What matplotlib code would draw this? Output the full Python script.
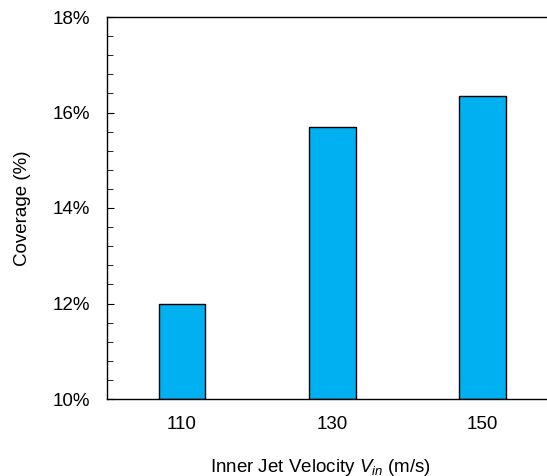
import matplotlib.pyplot as plt
from matplotlib.ticker import MultipleLocator, FuncFormatter

plt.rcParams['font.family'] = ['Liberation Sans', 'DejaVu Sans']
plt.rcParams['mathtext.fontset'] = 'custom'
plt.rcParams['mathtext.it'] = 'Liberation Sans:italic'
plt.rcParams['mathtext.rm'] = 'Liberation Sans'

# datos
velocidades = ['110', '130', '150']
cobertura = [11.98, 15.70, 16.35]

fig = plt.figure(figsize=(5.47, 4.76), dpi=100)
ax = fig.add_axes([107 / 547, 1 - 399 / 476, 440 / 547, 382 / 476])

x = range(len(velocidades))
ax.bar(x, [c - 10 for c in cobertura], bottom=10, width=0.313,
       color='#00B0F0', edgecolor='black', linewidth=1)

ax.set_xlim(-0.5, 2.433)
ax.set_ylim(10, 18)
ax.set_xticks(list(x))
ax.set_xticklabels(velocidades)
ax.yaxis.set_major_locator(MultipleLocator(2))
ax.yaxis.set_minor_locator(MultipleLocator(0.4))
ax.yaxis.set_major_formatter(FuncFormatter(lambda v, p: f'{v:.0f}%'))
ax.tick_params(axis='y', which='both', direction='in', labelsize=13.5, pad=12)
ax.tick_params(axis='y', which='major', length=5)
ax.tick_params(axis='y', which='minor', length=4)
ax.tick_params(axis='x', length=0, labelsize=13.5, pad=12)
ax.spines['right'].set_visible(False)
for s in ['left', 'bottom', 'top']:
    ax.spines[s].set_linewidth(1)

ax.set_ylabel('Coverage (%)', fontsize=13.5, va='center')
ax.yaxis.set_label_coords((23 - 107) / 440, 0.5)
ax.set_xlabel(r'Inner Jet Velocity $V_{in}$ (m/s)', fontsize=13.5, va='center')
ax.xaxis.set_label_coords((321 - 107) / 440, (399 - 467) / 382)

fig.savefig('out.png', dpi=100)
